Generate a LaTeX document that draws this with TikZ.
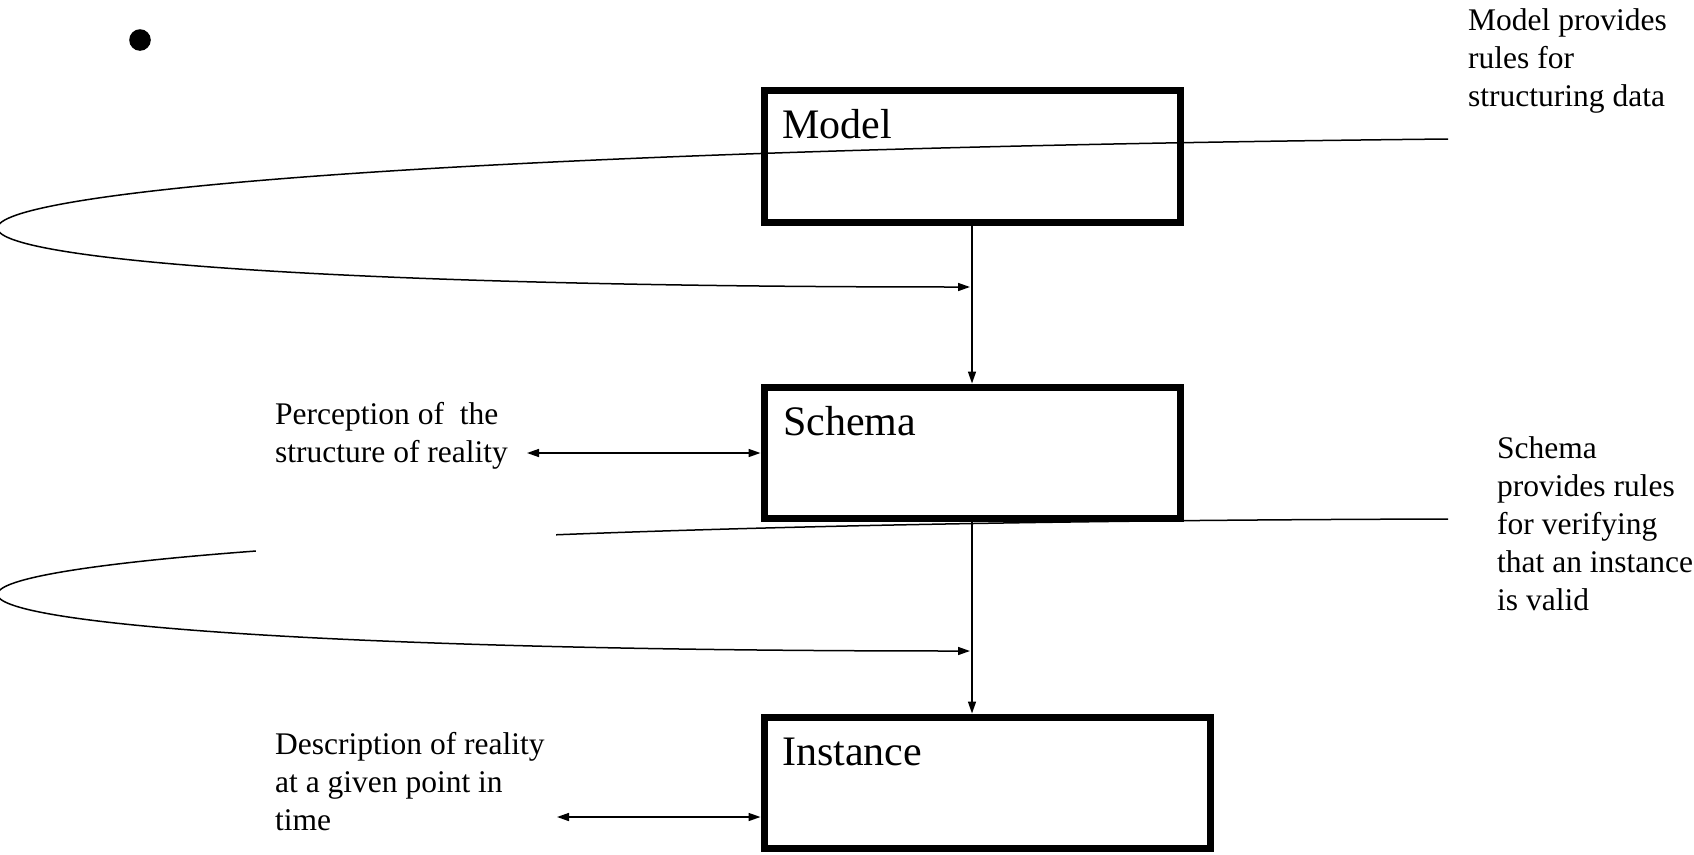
\documentclass[tikz,border=0pt]{standalone}
\usepackage{fontspec}
\setmainfont{Liberation Serif}
\usetikzlibrary{arrows.meta}
\begin{document}
\begin{tikzpicture}[x=1pt,y=-1pt,
  levelbox/.style={draw=black,line width=7pt,rectangle,inner sep=0pt,fill=none},
  boxtitle/.style={anchor=base west,inner sep=0pt,font=\fontsize{42}{50}\selectfont},
  % multi-line notes: the base anchor sits on the last line
  note/.style={anchor=base west,inner sep=0pt,align=left,font=\fontsize{31.5}{38}\selectfont},
  conn/.style={line width=1.5pt,-{Triangle[length=12pt,width=8pt]}},
  twoway/.style={line width=1.5pt,{Triangle[length=12pt,width=8pt]}-{Triangle[length=12pt,width=8pt]}},
  loopline/.style={line width=1.5pt,-{Triangle[length=12pt,width=8pt]}}
]
\useasboundingbox (0,0) rectangle (1694,854);
\fill[white] (0,0) rectangle (1694,854);

% bullet
\fill[black] (140,40) circle[radius=10.8];

% level boxes
\node[levelbox,minimum width=416pt,minimum height=132pt] (model) at (972,156) {};
\node[levelbox,minimum width=416pt,minimum height=131pt] (schema) at (972,452.5) {};
\node[levelbox,minimum width=446pt,minimum height=131pt] (instance) at (987,782.5) {};

\node[boxtitle] (modeltitle) at (782,138) {Model};
\node[boxtitle] (schematitle) at (783,435) {Schema};
\node[boxtitle] (instancetitle) at (782,765) {Instance};

% explanatory notes
\node[note] (modelnote) at (1468,106) {Model provides\\rules for\\structuring data};
\node[note] (schemanote) at (1497,610) {Schema\\provides rules\\for verifying\\that an instance\\is valid};
\node[note] (percnote) at (275,462) {Perception of~ the\\structure of reality};
\node[note] (descnote) at (275,830) {Description of reality\\at a given point in\\time};

% free ends of the looping connectors
\coordinate (loopAstart) at (1448,139);
\coordinate (loopAend) at (970,287);
\coordinate (loopBstart) at (1448,519);
\coordinate (loopBend) at (970,651);

\draw[loopline] (loopAstart) .. controls (-395,158) and (-395,287) .. (loopAend);
\draw[loopline] (loopBstart) .. controls (-395,524) and (-395,651) .. (loopBend);
% break in the lower loop
\fill[white] (256,527) rectangle (556,562);

% hierarchy connectors
\draw[conn] (model.south) -- (schema.north);
\draw[conn] (schema.south) -- (schema.south |- instance.north);

% two-way links to the notes
\coordinate (percend) at (527,453);
\coordinate (descend) at (557,817);
\draw[twoway] (percend) -- (percend -| schema.west);
\draw[twoway] (descend) -- (descend -| instance.west);
\end{tikzpicture}
\end{document}
